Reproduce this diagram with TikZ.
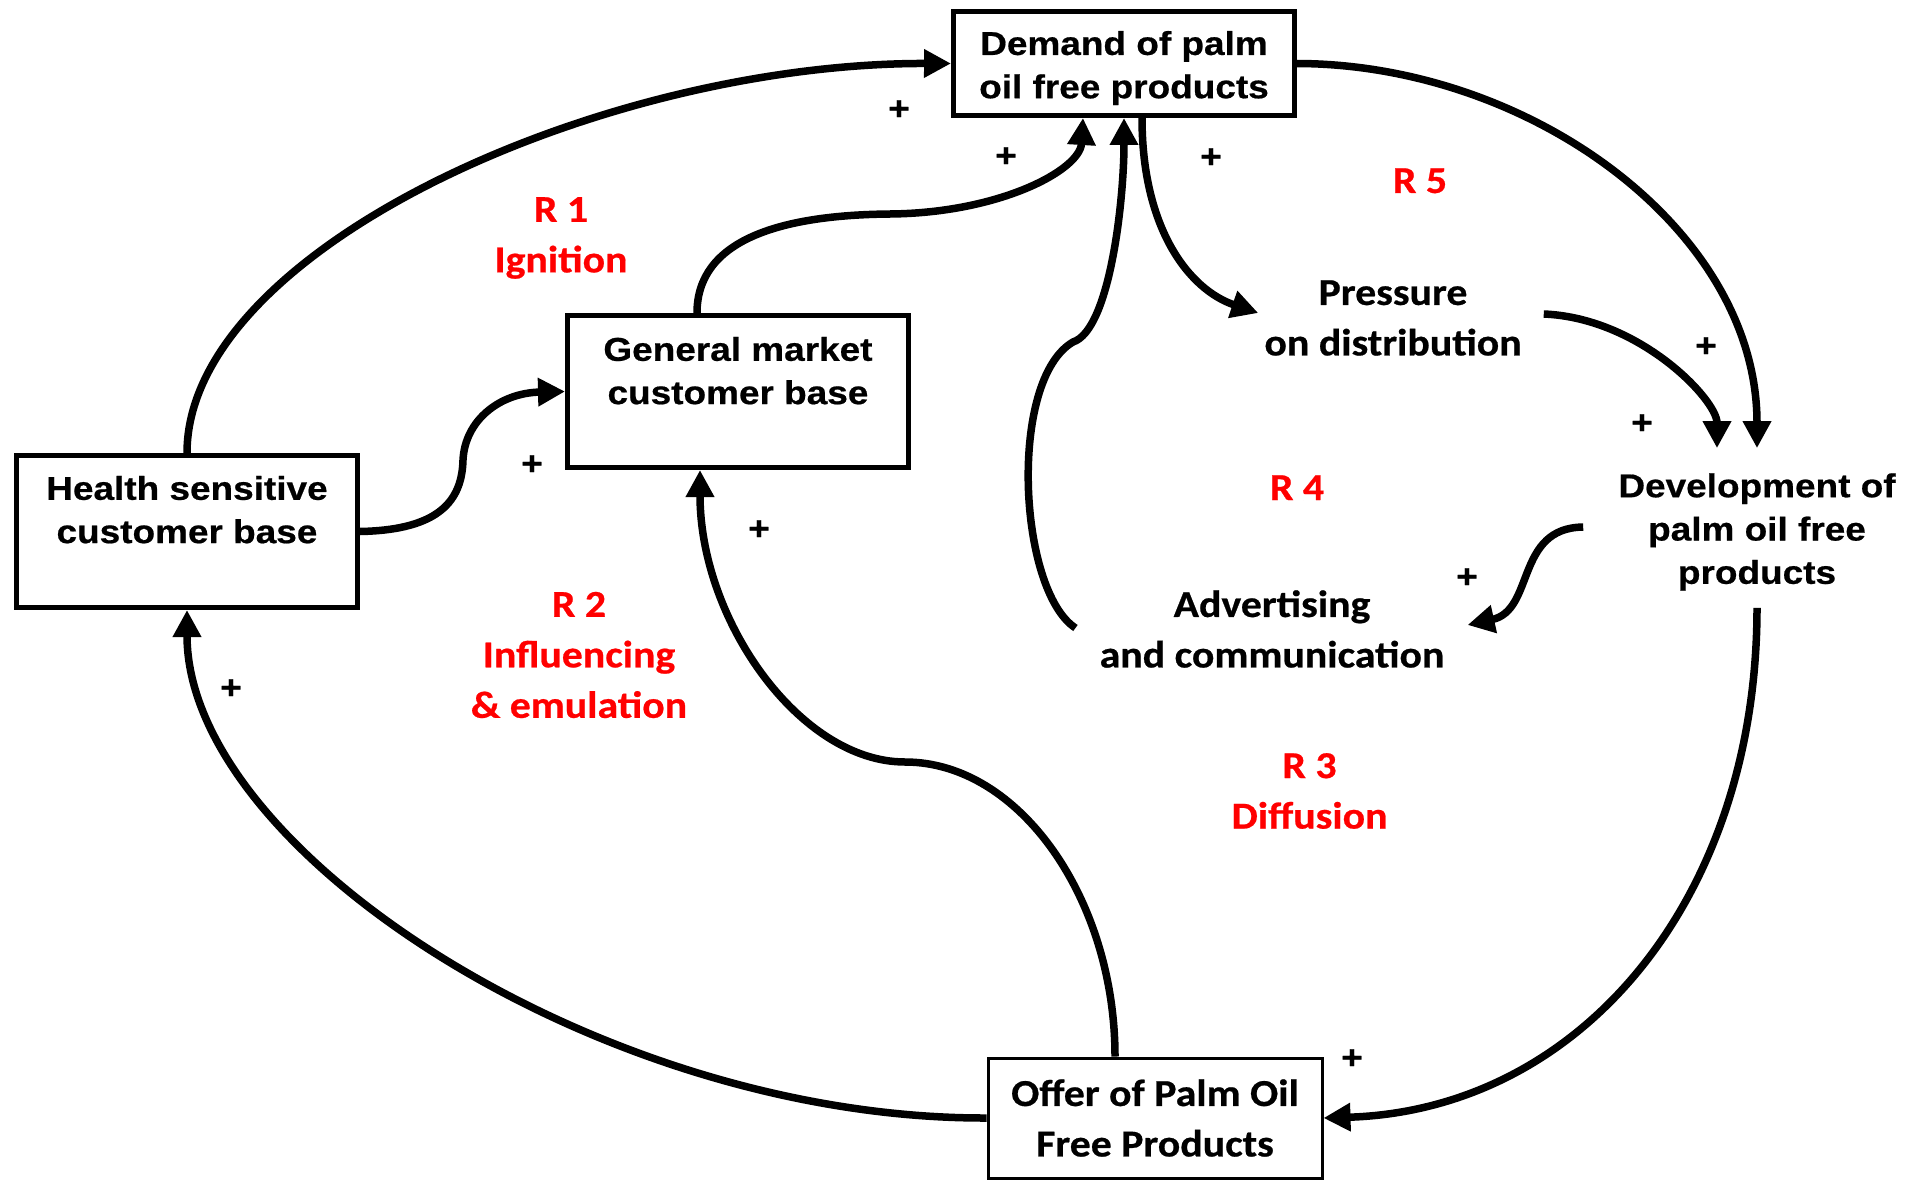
\documentclass[tikz,border=0pt]{standalone}
\usepackage{fontspec}
\usetikzlibrary{arrows.meta,calc}
\newfontfamily\arialfont[FakeStretch=1.12,FakeBold=0.6]{Liberation Sans}
\newfontfamily\calfont[FakeStretch=1.1,FakeBold=0.6]{Carlito}
\begin{document}
\begin{tikzpicture}[x=1pt,y=-1pt,
  box/.style={draw, line width=5pt, rectangle, minimum width=341pt, inner sep=0pt},
  arialtxt/.style={font=\arialfont\bfseries\fontsize{33}{43.3}\selectfont, align=center, inner sep=0pt},
  caltxt/.style={font=\calfont\bfseries\fontsize{38}{50.5}\selectfont, align=center, inner sep=0pt},
  redtxt/.style={caltxt, text=red},
  plus/.style={font=\arialfont\bfseries\fontsize{33}{33}\selectfont, inner sep=0pt},
  conn/.style={line width=7.5pt, -{Triangle[length=27pt,width=27pt]}}
]
\fill[white] (0,0) rectangle (1925,1180);
\useasboundingbox (0,0) rectangle (1925,1180);

% boxes
\node[box, minimum height=104pt, arialtxt] (demand) at (1124,63.5) {\rule{0pt}{33pt}Demand of palm\\oil free products};
\node[box, minimum height=152pt, arialtxt] (hs) at (187,531.5) {Health sensitive\\customer base\rule[-44pt]{0pt}{44pt}};
\node[box, minimum height=152pt, arialtxt] (gm) at (738,391.5) {General market\\customer base\rule[-42pt]{0pt}{42pt}};
\node[draw, line width=3pt, minimum width=334pt, minimum height=120pt, inner sep=0pt, caltxt] (offer) at (1155,1118) {Offer of Palm Oil\\Free Products};

% free variables
\node[caltxt] (press) at (1393,318) {Pressure\\on distribution};
\node[arialtxt] (dev) at (1757,532) {Development of\\palm oil free\\products};
\node[caltxt] (adv) at (1272,629) {Advertising\\and communication};

% loop labels
\node[redtxt] (r1) at (561,238) {R 1\\Ignition};
\node[redtxt] (r2) at (579,655) {R 2\\Influencing\\\& emulation};
\node[redtxt] (r3) at (1309.5,791) {R 3\\Diffusion};
\node[redtxt, anchor=base] (r4) at (1297,500) {R 4};
\node[redtxt, anchor=base] (r5) at (1420,193) {R 5};

% polarity signs
\node[plus] (p1) at (899,110) {+};
\node[plus] (p2) at (1006,157) {+};
\node[plus] (p3) at (1211,158) {+};
\node[plus] (p4) at (1706,347) {+};
\node[plus] (p5) at (1642,424) {+};
\node[plus] (p6) at (1467,578) {+};
\node[plus] (p7) at (532,465) {+};
\node[plus] (p8) at (759,530) {+};
\node[plus] (p9) at (231,689) {+};
\node[plus] (p10) at (1352,1059) {+};

% connectors
\draw[conn] (hs.north) .. controls (187,250) and (600,63) .. (demand.west);
\draw[conn] (hs.east) .. controls (440,530) and (462,500) .. (463,460)
            .. controls (465,420) and (500,393) .. (gm.west);
\draw[conn] ($(gm.north)+(-41,0)$) .. controls (697,240) and (780,215) .. (890,214)
            .. controls (1000,213) and (1080,170) .. ($(demand.south)+(-41,0)$);
\draw[conn] ($(adv.west)+(-24,-1)$) .. controls (1018,590) and (1008,380) .. (1073,342)
            .. controls (1110,330) and (1124,200) .. (demand.south);
\draw[conn] ($(demand.south)+(18,0)$) .. controls (1142,230) and (1190,290) .. ($(press.west)+(-6,-5)$);
\draw[conn] (demand.east) .. controls (1530,64) and (1757,230) .. ($(dev.north)+(0,-25)$);
\draw[conn] ($(press.east)+(22,-4)$) .. controls (1640,318) and (1717,400) .. ($(dev.north)+(-40,-25)$);
\draw[conn] ($(dev.west)+(-35,-5)$) .. controls (1515,528) and (1535,610) .. ($(adv.east)+(23,-4)$);
\draw[conn] ($(dev.south)+(0,17)$) .. controls (1757,900) and (1580,1110) .. (offer.east);
\draw[conn] (offer.west) .. controls (600,1119) and (187,850) .. (hs.south);
\draw[conn] ($(offer.north)+(-40,0)$) .. controls (1115,900) and (1020,762) .. (905,762)
            .. controls (800,762) and (700,620) .. ($(gm.south)+(-38,0)$);
\end{tikzpicture}
\end{document}
